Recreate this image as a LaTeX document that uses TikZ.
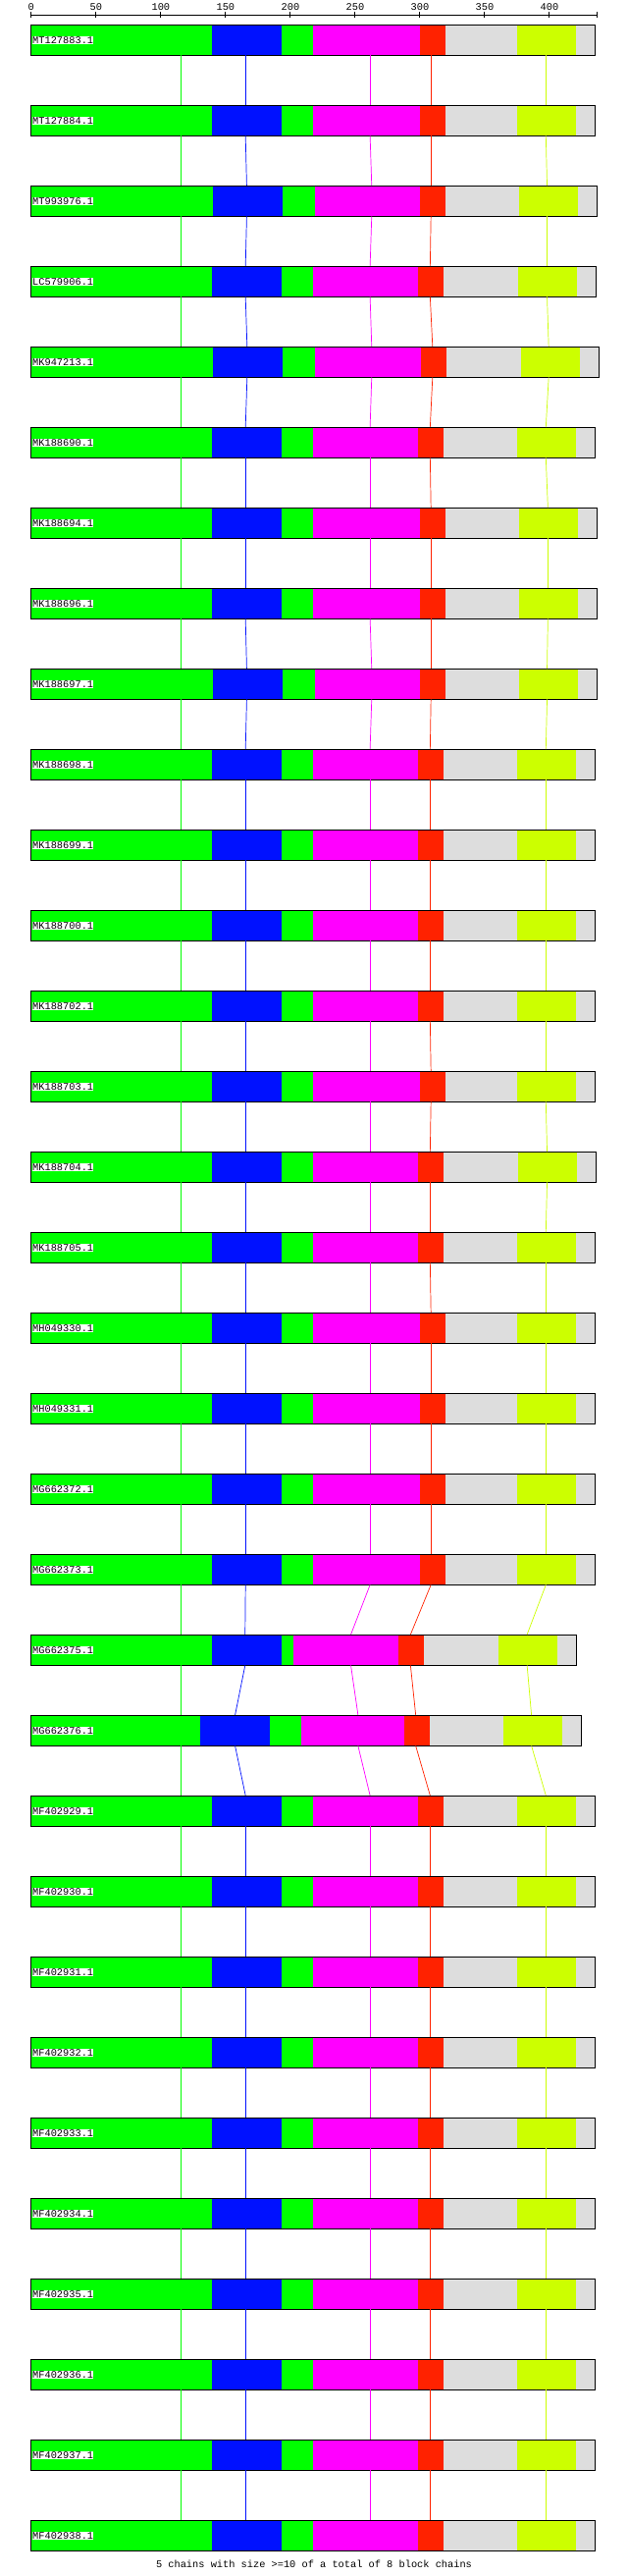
\documentclass[tikz,border=0pt]{standalone}
\usepackage{fontspec}
\newfontfamily\monofont{Liberation Mono}
\usepackage{tikz}

\definecolor{cgreen}{HTML}{00FF00}
\definecolor{cblue}{HTML}{0011FF}
\definecolor{cmagenta}{HTML}{FF00FF}
\definecolor{cred}{HTML}{FF2200}
\definecolor{cgray}{HTML}{DDDDDD}
\definecolor{cyellow}{HTML}{CCFF00}

% one bar: row, then the 8 block ends
\newcommand{\seqbar}[9]{%
  \pgfmathsetmacro{\rowtop}{-75-246*(#1-1)}%
  \pgfmathsetmacro{\rowbot}{\rowtop-94}%
  \fill[cgreen] (78,\rowtop) rectangle (#2,\rowbot);
  \fill[cblue] (#2,\rowtop) rectangle (#3,\rowbot);
  \fill[cgreen] (#3,\rowtop) rectangle (#4,\rowbot);
  \fill[cmagenta] (#4,\rowtop) rectangle (#5,\rowbot);
  \fill[cred] (#5,\rowtop) rectangle (#6,\rowbot);
  \fill[cgray] (#6,\rowtop) rectangle (#7,\rowbot);
  \fill[cyellow] (#7,\rowtop) rectangle (#8,\rowbot);
  \fill[cgray] (#8,\rowtop) rectangle (#9,\rowbot);
  \draw[frame] (78,\rowtop) rectangle (#9,\rowbot);
}
% anchor points of the chains on a bar
\newcommand{\seqlinks}[5]{%
  \pgfmathsetmacro{\rowtop}{-75-246*(#1-1)}%
  \pgfmathsetmacro{\rowbot}{\rowtop-94}%
  \coordinate (r#1g-t) at (452,\rowtop); \coordinate (r#1g-b) at (452,\rowbot);
  \coordinate (r#1b-t) at (#2,\rowtop);  \coordinate (r#1b-b) at (#2,\rowbot);
  \coordinate (r#1m-t) at (#3,\rowtop);  \coordinate (r#1m-b) at (#3,\rowbot);
  \coordinate (r#1r-t) at (#4,\rowtop);  \coordinate (r#1r-b) at (#4,\rowbot);
  \coordinate (r#1y-t) at (#5,\rowtop);  \coordinate (r#1y-b) at (#5,\rowbot);
}
\newcommand{\typeA}[1]{\seqbar{#1}{529}{703}{781}{1049}{1112}{1291}{1437}{1486}\seqlinks{#1}{613}{924}{1076}{1363}}
\newcommand{\typeB}[1]{\seqbar{#1}{532}{706}{786}{1049}{1112}{1296}{1443}{1491}\seqlinks{#1}{616}{928}{1076}{1366}}
\newcommand{\typeC}[1]{\seqbar{#1}{529}{703}{781}{1049}{1112}{1296}{1443}{1491}\seqlinks{#1}{613}{924}{1076}{1368}}
\newcommand{\typeD}[1]{\seqbar{#1}{529}{703}{781}{1043}{1107}{1294}{1441}{1489}\seqlinks{#1}{613}{924}{1074}{1366}}
\newcommand{\typeE}[1]{\seqbar{#1}{532}{706}{786}{1051}{1115}{1301}{1447}{1495}\seqlinks{#1}{617}{928}{1080}{1370}}
\newcommand{\typeF}[1]{\seqbar{#1}{529}{703}{781}{1043}{1107}{1291}{1437}{1486}\seqlinks{#1}{613}{924}{1074}{1363}}
\newcommand{\typeG}[1]{\seqbar{#1}{529}{703}{733}{995}{1058}{1245}{1391}{1439}\seqlinks{#1}{612}{876}{1025}{1316}}
\newcommand{\typeH}[1]{\seqbar{#1}{500}{674}{751}{1009}{1073}{1257}{1403}{1451}\seqlinks{#1}{587}{894}{1038}{1327}}

\begin{document}
\begin{tikzpicture}[
    x=0.012245cm, y=0.01cm,
    frame/.style={draw=black, line width=0.85pt},
    axisline/.style={draw=black, line width=0.85pt},
    seqlab/.style={fill=white, inner xsep=0.3pt, inner ysep=0.5pt, anchor=west, font=\monofont\fontsize{8.8}{9}\selectfont},
    ticklab/.style={font=\monofont\fontsize{8.8}{9}\selectfont},
    link/.style={line width=0.6pt}
]
    \useasboundingbox (0,0) rectangle (1568,-7872);

    % scale
    \coordinate (ax0) at (78,-45);
    \coordinate (axend) at (1490,-45);
    \draw[axisline] (ax0) -- (axend);
    \foreach \v in {0,50,...,400} {
        \draw[axisline] ({78+3.235*\v},-36) -- ({78+3.235*\v},-54);
        \node[ticklab] (tick\v) at ({78+3.235*\v},-22) {\v};
    }
    \draw[axisline] (1490,-36) -- (1490,-54);

    % sequences
    \foreach \k/\lab/\ty in {1/MT127883.1/A, 2/MT127884.1/A, 3/MT993976.1/B, 4/LC579906.1/D,
        5/MK947213.1/E, 6/MK188690.1/F, 7/MK188694.1/C, 8/MK188696.1/C, 9/MK188697.1/B,
        10/MK188698.1/F, 11/MK188699.1/F, 12/MK188700.1/F, 13/MK188702.1/F, 14/MK188703.1/A,
        15/MK188704.1/D, 16/MK188705.1/F, 17/MH049330.1/A, 18/MH049331.1/A, 19/MG662372.1/A,
        20/MG662373.1/A, 21/MG662375.1/G, 22/MG662376.1/H, 23/MF402929.1/F, 24/MF402930.1/F,
        25/MF402931.1/F, 26/MF402932.1/F, 27/MF402933.1/F, 28/MF402934.1/F, 29/MF402935.1/F,
        30/MF402936.1/F, 31/MF402937.1/F, 32/MF402938.1/F} {
        \csname type\ty\endcsname{\k}
        \node[seqlab] (lab\k) at (80,{-75-246*(\k-1)-48}) {\lab};
    }

    % chains
    \foreach \k [count=\n from 2] in {1,...,31} {
        \draw[link, cgreen] (r\k g-b) -- (r\n g-t);
        \draw[link, cblue] (r\k b-b) -- (r\n b-t);
        \draw[link, cmagenta] (r\k m-b) -- (r\n m-t);
        \draw[link, cred] (r\k r-b) -- (r\n r-t);
        \draw[link, cyellow] (r\k y-b) -- (r\n y-t);
    }

    \node[ticklab] (summary) at (784,-7836) {5 chains with size >=10 of a total of 8 block chains};
\end{tikzpicture}
\end{document}
